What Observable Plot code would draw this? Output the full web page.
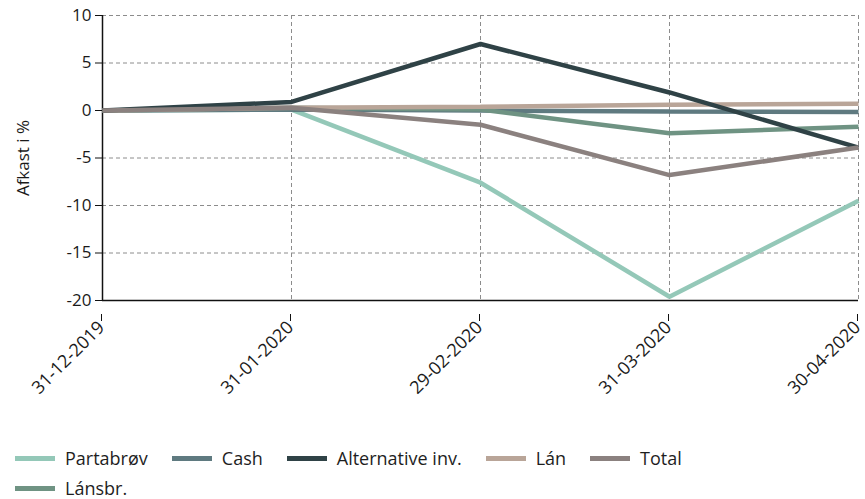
<!DOCTYPE html>
<html>
<head>
<meta charset="utf-8">
<script src="https://cdn.jsdelivr.net/npm/d3@7"></script>
<script src="https://cdn.jsdelivr.net/npm/@observablehq/plot@0.6"></script>
<style>
  html, body { margin: 0; padding: 0; background: #fff; }
  #wrap { position: relative; width: 865px; height: 499px; font-family: "Open Sans", sans-serif; }
  #legend { position: absolute; left: 15px; top: 443px; width: 760px; display: flex; flex-wrap: wrap; color: #1e1e1e; font-size: 18px; }
  .item { display: flex; align-items: center; height: 30px; margin-right: 24px; }
  .sw { width: 40px; height: 5px; margin-right: 10px; }
</style>
</head>
<body>
<div id="wrap"><div id="chart"></div><div id="legend"></div></div>
<script>
const dates = ["31-12-2019", "31-01-2020", "29-02-2020", "31-03-2020", "30-04-2020"];
const yTicks = [-20, -15, -10, -5, 0, 5, 10];
const seriesNames = ["Partabrøv", "Cash", "Alternative inv.", "Lán", "Total", "Lánsbr."];
const seriesColors = ["#94c8b8", "#5f7a80", "#2f4246", "#b9a598", "#8b817f", "#6f9383"];
const partabrov = [0, 0.1, -7.6, -19.6, -9.5];
const cash = [0, 0.1, 0.0, -0.1, -0.15];
const alternative = [0, 0.9, 7.0, 1.9, -3.9];
const lan = [0, 0.3, 0.4, 0.6, 0.7];
const total = [0, 0.3, -1.5, -6.8, -3.9];
const lansbr = [0, 0.3, 0.1, -2.4, -1.7];

const valuesBySeries = {
  "Partabrøv": partabrov, "Cash": cash, "Alternative inv.": alternative,
  "Lán": lan, "Total": total, "Lánsbr.": lansbr
};
const drawOrder = ["Partabrøv", "Cash", "Lánsbr.", "Lán", "Alternative inv.", "Total"];
const colorOf = name => seriesColors[seriesNames.indexOf(name)];

const lineMarks = drawOrder.map(name =>
  Plot.line(dates.map((d, i) => ({date: d, value: valuesBySeries[name][i]})), {
    x: "date", y: "value", stroke: colorOf(name), strokeWidth: 4.5,
    strokeLinejoin: "miter", strokeLinecap: "butt"
  })
);

const chart = Plot.plot({
  width: 865, height: 430,
  marginLeft: 102, marginRight: 7, marginTop: 15, marginBottom: 130,
  style: {fontFamily: "Open Sans, sans-serif", fontSize: "17px", color: "#1a1a1a", background: "#fff"},
  x: {type: "point", domain: dates, padding: 0},
  y: {domain: [-20, 10]},
  marks: [
    Plot.gridY(yTicks, {stroke: "#8c8c8c", strokeOpacity: 1, strokeDasharray: "4,3"}),
    Plot.gridX(dates, {stroke: "#8c8c8c", strokeOpacity: 1, strokeDasharray: "4,3"}),
    Plot.ruleY([-20], {stroke: "#111", strokeWidth: 1.5}),
    Plot.ruleX([dates[0]], {stroke: "#111", strokeWidth: 1.5}),
    Plot.axisY(yTicks, {tickSize: 7, tickPadding: 4, stroke: "#111", tickFormat: d => String(d), label: "Afkast i %", labelAnchor: "center", labelArrow: "none", labelOffset: 86, fontSize: 17}),
    Plot.axisX(dates, {tickSize: 7, tickPadding: 3, stroke: "#111", tickRotate: -45, label: null, fontSize: 18, dx: -1, dy: 14}),
    ...lineMarks
  ]
});
document.getElementById("chart").appendChild(chart);

const legend = document.getElementById("legend");
seriesNames.forEach((name, i) => {
  const item = document.createElement("div");
  item.className = "item";
  const sw = document.createElement("span");
  sw.className = "sw";
  sw.style.background = seriesColors[i];
  const t = document.createElement("span");
  t.textContent = name;
  item.appendChild(sw); item.appendChild(t);
  legend.appendChild(item);
});
</script>
</body>
</html>
